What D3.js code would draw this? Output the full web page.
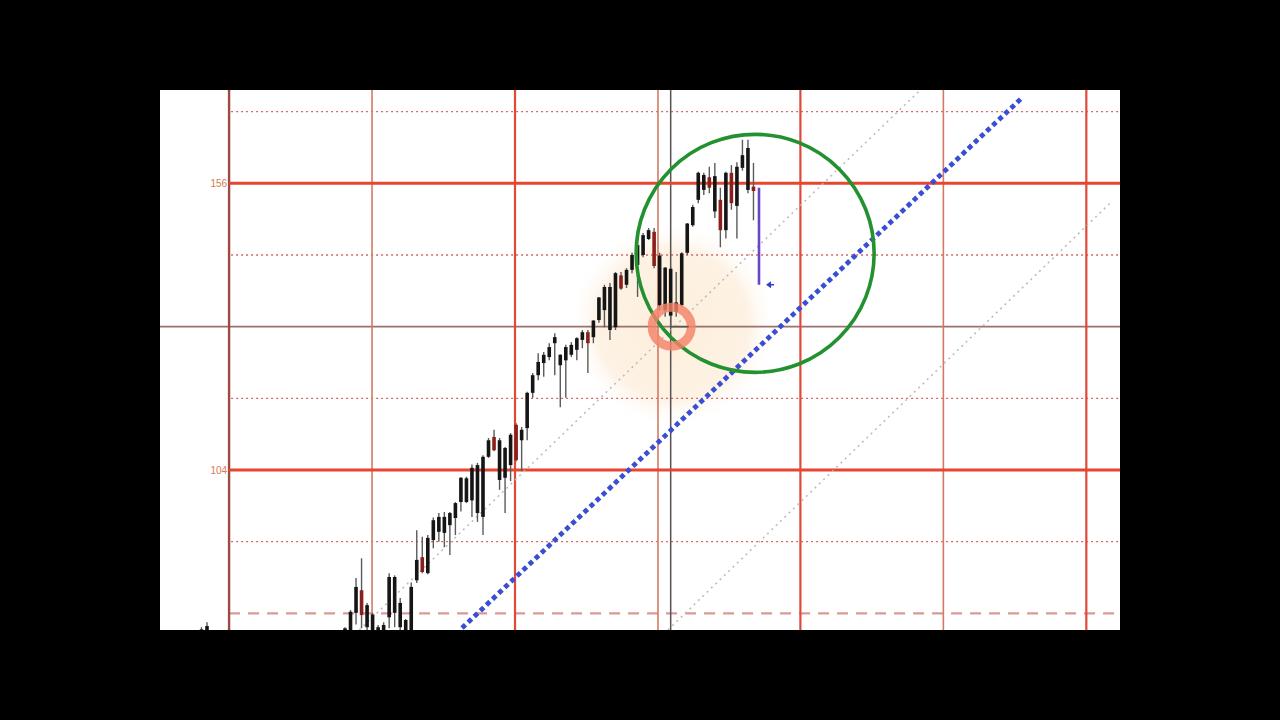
<!DOCTYPE html>
<html><head><meta charset="utf-8">
<script src="https://cdn.jsdelivr.net/npm/d3@7"></script>
<style>html,body{margin:0;padding:0;background:#000;overflow:hidden}svg{display:block}</style>
</head><body><svg id="c" width="1280" height="720"></svg>
<script>
// ---- data ----
const candleIndex = [-26,-25,0,1,2,3,4,5,6,7,8,9,10,11,12,13,14,15,16,17,18,19,20,21,22,23,24,25,26,27,28,29,30,31,32,33,34,35,36,37,38,39,40,41,42,43,44,45,46,47,48,49,50,51,52,53,54,55,56,57,58,59,60,61,62,63,64,65,66,67,68,69,70,71,72,73,74];
const openVals  = [73,73,73,74,78.1,82.2,75.5,74.5,73.5,74,77.3,78.1,75.5,74,74,84.0,88.2,85.3,91.3,92.8,92.6,94.0,95.3,98.2,98.2,98.5,96.2,95.5,106.4,110.0,102.2,102.6,104.9,112.2,109.4,111.6,118.0,121.2,123.4,124.5,127.0,123.0,123.9,124.9,125.8,127.6,129.0,128.1,131.2,133.0,129.4,129.9,139.3,137.6,140.3,141.2,143.0,145.9,147.2,133.9,133.0,132.0,132.7,133.9,143.4,148.4,153.0,154.8,157.1,150.9,153.0,147.5,157.9,151.9,158.8,154.8,155.4];
const highVals  = [75.5,76.4,75.5,78.6,84.4,88.0,79.9,78.1,75.9,76.4,85.3,84.9,80.8,77.0,83.6,93.1,91.9,92.2,95.4,96.2,96.4,96.4,98.2,102.7,102.8,105.0,105.3,106.7,109.8,111.3,109.8,108.2,110.7,112.5,111.8,118.2,121.6,125.2,125.4,127.0,128.8,125.0,126.7,127.2,128.1,129.4,129.4,131.2,135.4,137.6,137.9,139.9,139.9,140.6,143.4,146.3,147.0,147.9,147.9,143.4,140.8,140.8,139.9,143.5,148.8,152.1,158.1,157.9,159.0,159.7,155.2,158.1,159.3,159.8,163.9,163.9,159.7];
const lowVals   = [72,72,72,73,76.0,75.3,74,73,73,73,75.3,75.5,74.5,73,73,83.5,85.3,85.1,89.8,91.0,90.0,88.6,92.2,96.5,98.0,95.5,94.6,92.2,106.2,107.4,100.4,96.2,102.0,105.6,103.8,109.4,117.1,120.3,120.9,123.9,121.2,115.4,117.1,124.5,123.9,126.1,121.6,127.0,130.7,129.9,127.6,129.4,136.7,137.0,139.7,135.4,142.6,145.7,140.6,133.0,131.8,130.1,131.8,133.6,143.0,148.1,152.4,153.9,154.2,149.7,144.4,146.0,151.2,146.0,158.3,154.2,149.3];
const closeVals = [75.1,75.7,75.3,78.3,82.8,77.7,79.5,77.8,75.5,75.9,84.6,84.6,79.9,76.8,82.8,87.7,85.5,91.7,94.9,95.5,95.5,96.2,98.0,102.6,102.5,104.4,104.9,106.4,109.4,107.6,109.4,108.0,110.4,105.8,111.3,118.0,121.2,123.6,124.9,126.3,128.1,124.9,126.3,126.7,127.9,129.0,127.0,131.1,135.3,137.2,137.2,139.7,136.9,140.3,143.0,144.8,146.6,147.5,141.0,142.9,140.7,140.5,134.4,143.3,148.7,151.7,157.9,157.5,155.2,157.3,147.5,157.9,152.4,159.0,161.1,162.4,154.6];

const priceLabels = [156, 104];
const dottedLevels = [169, 143, 117, 91];
const dashedLevels = [78];
const axisXValue = [-21];
const majorXValues = [30.8, 82.5, 134.3];
const minorXValues = [4.9, 56.7, 108.4];
const crossIndex = 59, crossPrice = 130;
const grayLine1 = [[2.6, 75], [104.2, 172.9]];
const grayLine2 = [[58.5, 75], [138.6, 152.4]];
const blueLine  = [[21.2, 75.35], [122.8, 171.66]];
const purpleBar = {index: 75, top: 155.2, bottom: 137.6};
const arrowPoint = {index: 77, price: 137.6};
const circleCenter = {index: 74.3, price: 143.3};

// ---- layout ----
const L = 160, T = 90, W = 960, H = 540;
const svg = d3.select('#c');
svg.append('rect').attr('width',1280).attr('height',720).attr('fill','#000');
const x = d3.scaleLinear().domain([-33.514, 140.399]).range([L, L+W]);
const y = d3.scaleLinear().domain([74.99, 172.92]).range([T+H, T]);

const defs = svg.append('defs');
defs.append('clipPath').attr('id','clip').append('rect').attr('x',L).attr('y',T).attr('width',W).attr('height',H);
const rg = defs.append('radialGradient').attr('id','glow');
rg.append('stop').attr('offset','0%').attr('stop-color','#fdefdc').attr('stop-opacity',1);
rg.append('stop').attr('offset','72%').attr('stop-color','#fdf1e2').attr('stop-opacity',0.95);
rg.append('stop').attr('offset','100%').attr('stop-color','#fff').attr('stop-opacity',0);

const g = svg.append('g').attr('clip-path','url(#clip)');
g.append('rect').attr('x',L).attr('y',T).attr('width',W).attr('height',H).attr('fill','#fff');

// glow
g.append('ellipse').attr('cx', x(crossIndex)+2).attr('cy', y(crossPrice)-2).attr('rx',105).attr('ry',103).attr('fill','url(#glow)');

// horizontal dotted
g.selectAll('.dot').data(dottedLevels).join('line')
  .attr('x1', x(axisXValue[0])+2).attr('x2', L+W).attr('y1', d=>y(d)).attr('y2', d=>y(d))
  .attr('stroke','#d06a66').attr('stroke-width',1.3).attr('stroke-dasharray','2,3');
// dashed
g.selectAll('.dash').data(dashedLevels).join('line')
  .attr('x1', x(axisXValue[0])).attr('x2', L+W).attr('y1', d=>y(d)).attr('y2', d=>y(d))
  .attr('stroke','#d99a96').attr('stroke-width',2.2).attr('stroke-dasharray','11,8');
// crosshair horizontal
g.append('line').attr('x1',L).attr('x2',L+W).attr('y1',y(crossPrice)).attr('y2',y(crossPrice))
  .attr('stroke','#9a7070').attr('stroke-width',1.6);

// verticals
g.selectAll('.minx').data(minorXValues).join('line')
  .attr('x1', d=>x(d)).attr('x2', d=>x(d)).attr('y1',T).attr('y2',T+H)
  .attr('stroke','#d27a66').attr('stroke-width',1.6);
g.selectAll('.majx').data(majorXValues).join('line')
  .attr('x1', d=>x(d)).attr('x2', d=>x(d)).attr('y1',T).attr('y2',T+H)
  .attr('stroke','#e0483a').attr('stroke-width',2.2);
g.selectAll('.axx').data(axisXValue).join('line')
  .attr('x1', d=>x(d)).attr('x2', d=>x(d)).attr('y1',T).attr('y2',T+H)
  .attr('stroke','#9c4a40').attr('stroke-width',2.4);
// crosshair vertical
g.append('line').attr('x1',x(crossIndex)).attr('x2',x(crossIndex)).attr('y1',T).attr('y2',T+H)
  .attr('stroke','#5a5050').attr('stroke-width',1.5);

// major horizontals
g.selectAll('.majy').data(priceLabels).join('line')
  .attr('x1', x(axisXValue[0])).attr('x2', L+W).attr('y1', d=>y(d)).attr('y2', d=>y(d))
  .attr('stroke','#e8452e').attr('stroke-width',3);

// gray diagonals
const line = d3.line().x(d=>x(d[0])).y(d=>y(d[1]));
[grayLine1, grayLine2].forEach(l => {
  g.append('path').attr('d', line(l)).attr('fill','none')
   .attr('stroke','#bdbdbd').attr('stroke-width',1.6).attr('stroke-dasharray','2,4');
});

// candles
const candles = candleIndex.map((i,k)=>({i, o:openVals[k], h:highVals[k], l:lowVals[k], c:closeVals[k]}));
const cg = g.append('g');
cg.selectAll('.wick').data(candles).join('line')
  .attr('x1', d=>x(d.i)).attr('x2', d=>x(d.i)).attr('y1', d=>y(d.h)).attr('y2', d=>y(d.l))
  .attr('stroke','#5a5a5a').attr('stroke-width',1.4);
cg.selectAll('.body').data(candles).join('rect')
  .attr('x', d=>x(d.i)-1.8).attr('width',3.6)
  .attr('y', d=>y(Math.max(d.o,d.c))).attr('height', d=>Math.max(1, Math.abs(y(d.o)-y(d.c))))
  .attr('fill', d=> d.c >= d.o ? '#151515' : '#8a1f1c');

// blue dotted trend line
g.append('path').attr('d', line(blueLine)).attr('fill','none')
  .attr('stroke','#3a4ed4').attr('stroke-width',4.8).attr('stroke-dasharray','4.8,3.6');

// green circle
g.append('circle').attr('cx', x(circleCenter.index)).attr('cy', y(circleCenter.price)).attr('r',119)
  .attr('fill','none').attr('stroke','#23912f').attr('stroke-width',3.6);

// orange ring
g.append('circle').attr('cx', x(crossIndex)+1).attr('cy', y(crossPrice)).attr('r',19.5)
  .attr('fill','none').attr('stroke','#f3826a').attr('stroke-width',9).attr('opacity',0.82);
// crosshair small tick
g.append('line').attr('x1',x(crossIndex)).attr('x2',x(crossIndex)+18).attr('y1',y(crossPrice)).attr('y2',y(crossPrice))
  .attr('stroke','#555').attr('stroke-width',1.5);

// purple bar
g.append('line').attr('x1',x(purpleBar.index)).attr('x2',x(purpleBar.index))
  .attr('y1',y(purpleBar.top)).attr('y2',y(purpleBar.bottom))
  .attr('stroke','#6a44c4').attr('stroke-width',2.6);

// arrow
const ax = x(arrowPoint.index), ay = y(arrowPoint.price);
g.append('path').attr('d',`M${ax-4},${ay} L${ax+1},${ay-3.5} L${ax+1},${ay+3.5} Z`).attr('fill','#3040c8');
g.append('line').attr('x1',ax).attr('x2',ax+4).attr('y1',ay).attr('y2',ay).attr('stroke','#3040c8').attr('stroke-width',1.5);

// labels
svg.selectAll('.lbl').data(priceLabels).join('text')
  .attr('x', x(axisXValue[0])-2).attr('y', d=>y(d)+3.5)
  .attr('text-anchor','end').attr('font-family','Liberation Sans, Arial, sans-serif').attr('font-size',10)
  .attr('fill','#d97a50').text(d=>d);
</script></body></html>
